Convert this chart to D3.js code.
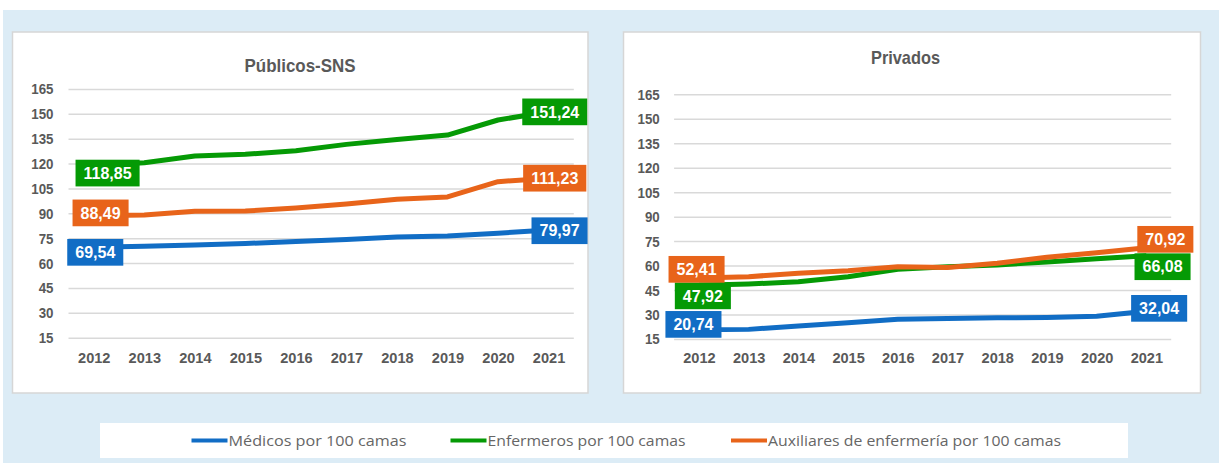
<!DOCTYPE html>
<html>
<head>
<meta charset="utf-8">
<script src="https://cdn.jsdelivr.net/npm/d3@7"></script>
<style>
  body { margin: 0; background: #fff; }
  svg { display: block; }
</style>
</head>
<body>
<svg id="chart" width="1219" height="463"></svg>
<script>
// years on the x axis
var years = ["2012", "2013", "2014", "2015", "2016", "2017", "2018", "2019", "2020", "2021"];
var yTicks = [15, 30, 45, 60, 75, 90, 105, 120, 135, 150, 165];

// Públicos-SNS
var snsMedicos    = [69.54, 70.2, 70.9, 71.8, 73.0, 74.3, 75.7, 76.3, 78.0, 79.97];
var snsEnfermeros = [118.85, 120.5, 124.6, 125.6, 127.8, 131.6, 134.5, 137.2, 146.3, 151.24];
var snsAuxiliares = [88.49, 89.0, 91.3, 91.4, 93.2, 95.6, 98.5, 99.9, 109.1, 111.23];

// Privados
var privMedicos    = [20.74, 20.9, 22.9, 25.0, 27.1, 27.5, 28.0, 28.2, 29.0, 32.04];
var privEnfermeros = [47.92, 48.7, 50.1, 53.2, 57.7, 59.3, 60.4, 62.2, 64.2, 66.08];
var privAuxiliares = [52.41, 53.2, 55.3, 56.9, 59.3, 58.8, 61.4, 65.1, 67.9, 70.92];

var seriesNames = ["Médicos por 100 camas", "Enfermeros por 100 camas", "Auxiliares de enfermería por 100 camas"];
var seriesColors = ["#116dc5", "#059a05", "#e8641a"];

var svg = d3.select("#chart");
// no narrow font available, so squeeze Liberation Sans with textLength
var fontSans = "'Liberation Sans', Arial, sans-serif";

function squeeze(sel, perChar) {
  sel.each(function () {
    var t = d3.select(this);
    var w = 0;
    for (var c of t.text()) w += (c === "," || c === "-") ? perChar * 0.6 : perChar;
    t.attr("textLength", w).attr("lengthAdjust", "spacingAndGlyphs");
  });
}

// backgrounds
svg.append("rect").attr("x", 0).attr("y", 0).attr("width", 1219).attr("height", 463).attr("fill", "#fff");
svg.append("rect").attr("x", 3).attr("y", 10).attr("width", 1216).attr("height", 453).attr("fill", "#dcecf6");

function drawPanel(opt) {
  var g = svg.append("g");
  g.append("rect")
    .attr("x", opt.box[0]).attr("y", opt.box[1])
    .attr("width", opt.box[2]).attr("height", opt.box[3])
    .attr("fill", "#fff").attr("stroke", "#d6d6d6").attr("stroke-width", 1.5);

  var x = d3.scalePoint().domain(years).range(opt.xr).padding(0.5);
  var y = d3.scaleLinear().domain([15, 165]).range(opt.yr);

  // gridlines
  g.append("g")
    .attr("transform", "translate(" + opt.xr[0] + ",0)")
    .call(d3.axisLeft(y).tickValues(yTicks).tickSize(-(opt.xr[1] - opt.xr[0])).tickFormat(""))
    .call(a => a.select(".domain").remove())
    .call(a => a.selectAll("line").attr("stroke", "#d9d9d9").attr("stroke-width", 1.5));

  // y labels
  g.append("g")
    .attr("transform", "translate(" + opt.xr[0] + ",0)")
    .call(d3.axisLeft(y).tickValues(yTicks).tickSize(0).tickPadding(opt.yPad))
    .call(a => a.select(".domain").remove())
    .call(a => a.selectAll("text").attr("fill", "#595959").style("font-family", fontSans)
      .style("font-size", "15.5px").style("font-weight", "bold").call(squeeze, 7.4));

  // x labels
  g.append("g")
    .attr("transform", "translate(0," + opt.yr[0] + ")")
    .call(d3.axisBottom(x).tickSize(0).tickPadding(opt.xPad))
    .call(a => a.select(".domain").remove())
    .call(a => a.selectAll("text").attr("fill", "#595959").style("font-family", fontSans)
      .style("font-size", "15.5px").style("font-weight", "bold").call(squeeze, 8.1));

  // title
  g.append("text")
    .attr("x", opt.title[1]).attr("y", opt.title[2])
    .attr("text-anchor", "middle")
    .attr("fill", "#595959")
    .attr("textLength", opt.title[3]).attr("lengthAdjust", "spacingAndGlyphs")
    .style("font-family", fontSans).style("font-size", "19px").style("font-weight", "bold")
    .text(opt.title[0]);

  var line = d3.line()
    .x((d, i) => x(years[i]))
    .y(d => y(d));

  opt.series.forEach(function (vals, k) {
    g.append("path")
      .datum(vals)
      .attr("d", line)
      .attr("fill", "none")
      .attr("stroke", seriesColors[k])
      .attr("stroke-width", 5)
      .attr("stroke-linejoin", "round");
  });

  // data labels at first and last year
  opt.series.forEach(function (vals, k) {
    [0, vals.length - 1].forEach(function (i, j) {
      var nudge = opt.nudge[k][j];
      var cx = x(years[i]) + nudge[0];
      var cy = y(vals[i]) + nudge[1];
      var txt = vals[i].toFixed(2).replace(".", ",");
      var lg = g.append("g");
      var t = lg.append("text")
        .attr("x", cx).attr("y", cy)
        .attr("dy", "0.36em")
        .attr("text-anchor", "middle")
        .attr("fill", "#fff")
        .style("font-family", fontSans)
        .style("font-size", "16px").style("font-weight", "bold")
        .text(txt);
      var w = t.node().getComputedTextLength() + 16;
      lg.insert("rect", "text")
        .attr("x", cx - w / 2).attr("y", cy - 13.3)
        .attr("width", w).attr("height", 26.7)
        .attr("fill", seriesColors[k]);
    });
  });
}

drawPanel({
  box: [12.5, 32, 575.5, 361],
  xr: [68.5, 573.8],
  yr: [337.7, 89],
  yPad: 15,
  xPad: 14,
  title: ["Públicos-SNS", 300, 72, 111],
  series: [snsMedicos, snsEnfermeros, snsAuxiliares],
  nudge: [[[1.5, 5], [11, 0.7]], [[13.8, 7.5], [6.2, 0]], [[6.8, -3], [6.2, 0]]]
});

drawPanel({
  box: [623.5, 32, 577, 361],
  xr: [674.1, 1171.2],
  yr: [339, 94.3],
  yPad: 14.4,
  xPad: 13,
  title: ["Privados", 905.5, 64, 69],
  series: [privMedicos, privEnfermeros, privAuxiliares],
  nudge: [[[-5.5, -5.3], [12.8, -2.9]], [[3.9, 10.5], [16.2, 11]], [[-2.4, -8.7], [19, -8.5]]]
});

// legend
var leg = svg.append("g");
leg.append("rect").attr("x", 100).attr("y", 423).attr("width", 1028).attr("height", 35).attr("fill", "#fff");
var legX = [191.5, 450.5, 731];
var legW = [178, 198, 293];
seriesNames.forEach(function (name, k) {
  leg.append("line")
    .attr("x1", legX[k]).attr("x2", legX[k] + 36)
    .attr("y1", 440.5).attr("y2", 440.5)
    .attr("stroke", seriesColors[k]).attr("stroke-width", 4);
  leg.append("text")
    .attr("x", legX[k] + 37).attr("y", 446)
    .attr("fill", "#666")
    .attr("textLength", legW[k]).attr("lengthAdjust", "spacingAndGlyphs")
    .style("font-family", "'Open Sans', sans-serif").style("font-size", "15px")
    .text(name);
});
</script>
</body>
</html>
